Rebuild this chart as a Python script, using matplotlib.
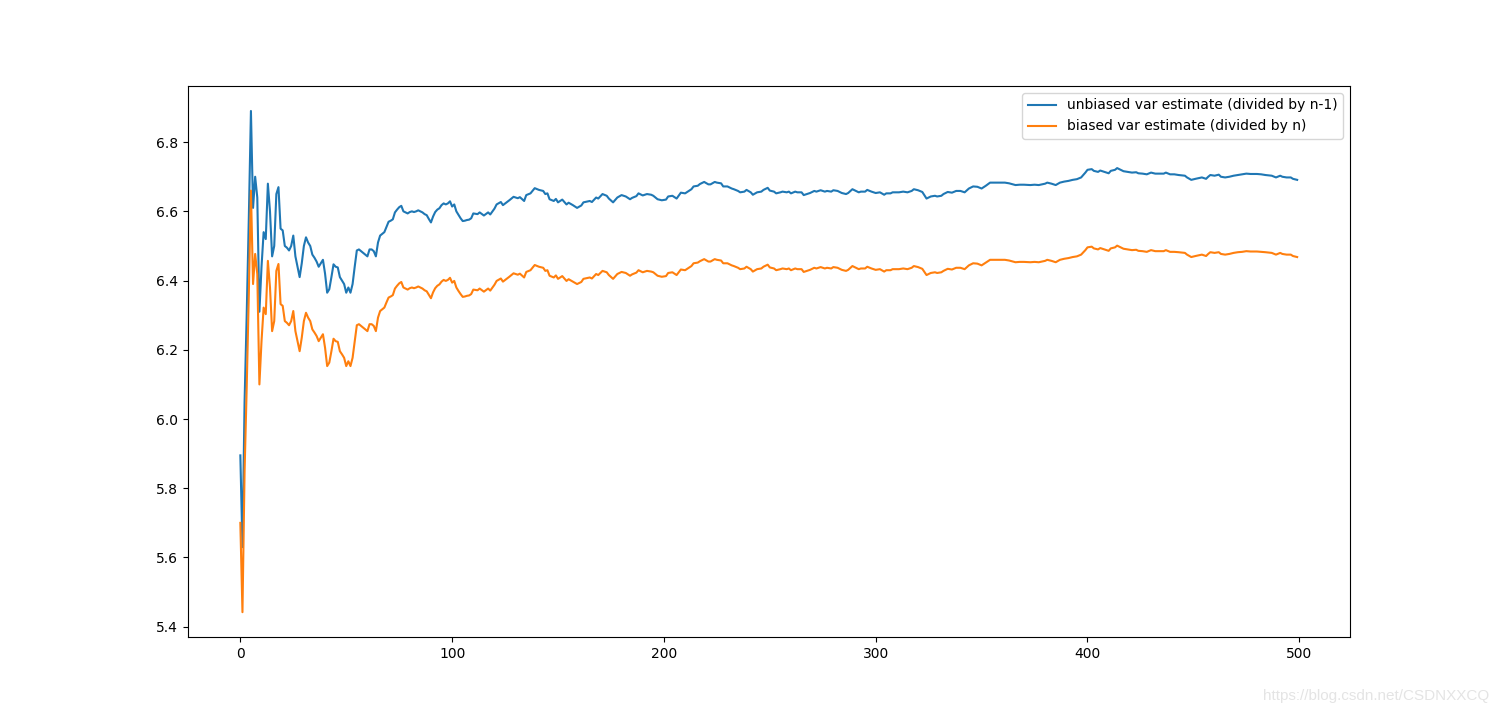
import numpy as np
import matplotlib.pyplot as plt

# sample index (every step early on, then the points)
idx = list(range(0, 111)) + [
    112, 113, 115, 117, 118, 120, 121, 123, 124, 127, 129, 131, 132, 134, 135, 137, 139, 141, 143, 144,
    145, 146, 148, 149, 150, 152, 154, 155, 157, 159, 161, 162, 165, 166, 168, 169, 171, 173, 174, 176,
    178, 180, 182, 184, 185, 187, 188, 190, 192, 194, 195, 197, 199, 201, 202, 204, 206, 208, 210, 211,
    213, 214, 216, 217, 219, 221, 222, 224, 225, 227, 228, 230, 232, 233, 235, 236, 238, 239, 241, 242,
    244, 246, 247, 249, 250, 252, 253, 255, 256, 258, 259, 260, 262, 263, 265, 266, 268, 269, 271, 272,
    274, 276, 277, 279, 280, 282, 284, 286, 287, 289, 290, 292, 293, 295, 296, 298, 300, 302, 304, 305,
    307, 308, 311, 313, 315, 317, 318, 320, 322, 324, 326, 328, 329, 331, 332, 334, 336, 338, 340, 342,
    344, 346, 348, 350, 352, 354, 356, 358, 361, 363, 366, 368, 370, 373, 375, 377, 380, 381, 383, 385,
    387, 389, 391, 393, 395, 397, 399, 400, 402, 403, 405, 406, 408, 410, 411, 413, 414, 416, 417, 419,
    421, 423, 424, 426, 428, 430, 432, 434, 436, 437, 439, 441, 443, 446, 447, 449, 451, 454, 456, 457,
    458, 460, 462, 463, 465, 467, 469, 471, 473, 475, 477, 480, 482, 484, 487, 489, 491, 492, 494, 496,
    497, 499]

unbiased = [
    5.895, 5.63, 6.05, 6.30, 6.58, 6.89, 6.61, 6.70, 6.64, 6.31,
    6.44, 6.54, 6.52, 6.68, 6.60, 6.47, 6.50, 6.65, 6.67, 6.55,
    6.545, 6.50, 6.495, 6.487, 6.50, 6.53, 6.47, 6.44, 6.41, 6.45,
    6.50, 6.525, 6.51, 6.50, 6.475, 6.466, 6.455, 6.44, 6.45, 6.46,
    6.42, 6.365, 6.375, 6.41, 6.447, 6.44, 6.438, 6.41, 6.40, 6.39,
    6.365, 6.38, 6.365, 6.39, 6.44, 6.487, 6.49, 6.485, 6.48, 6.475,
    6.47, 6.49, 6.49, 6.485, 6.47, 6.51, 6.53, 6.535, 6.54, 6.555,
    6.57, 6.573, 6.577, 6.597, 6.605, 6.612, 6.616, 6.60, 6.597, 6.594,
    6.598, 6.60, 6.598, 6.60, 6.603, 6.60, 6.597, 6.592, 6.589, 6.578,
    6.568, 6.585, 6.598, 6.605, 6.609, 6.618, 6.623, 6.62, 6.623, 6.629,
    6.614, 6.62, 6.60, 6.59, 6.58, 6.572, 6.573, 6.575, 6.576, 6.58,
    6.594,
    6.592, 6.597, 6.588, 6.597, 6.591, 6.608, 6.62, 6.627, 6.618, 6.632, 6.642, 6.638, 6.641, 6.63, 6.647,
    6.652, 6.667, 6.662, 6.659, 6.65, 6.652, 6.635, 6.63, 6.636, 6.626, 6.634, 6.62, 6.625, 6.618, 6.61,
    6.617, 6.626, 6.63, 6.627, 6.64, 6.637, 6.65, 6.645, 6.637, 6.626, 6.64, 6.647, 6.643, 6.635, 6.639,
    6.644, 6.652, 6.646, 6.65, 6.648, 6.645, 6.635, 6.632, 6.634, 6.643, 6.645, 6.637, 6.654, 6.652, 6.656,
    6.664, 6.672, 6.674, 6.679, 6.685, 6.678, 6.678, 6.685, 6.683, 6.681, 6.672, 6.672, 6.666, 6.664, 6.659,
    6.655, 6.657, 6.662, 6.655, 6.648, 6.655, 6.657, 6.662, 6.668, 6.66, 6.657, 6.652, 6.655, 6.657, 6.655,
    6.657, 6.652, 6.657, 6.655, 6.655, 6.647, 6.651, 6.653, 6.659, 6.657, 6.661, 6.657, 6.659, 6.657, 6.661,
    6.659, 6.653, 6.65, 6.653, 6.664, 6.661, 6.655, 6.657, 6.657, 6.662, 6.657, 6.653, 6.655, 6.648, 6.652,
    6.652, 6.655, 6.655, 6.657, 6.655, 6.659, 6.664, 6.661, 6.656, 6.637, 6.643, 6.645, 6.643, 6.645, 6.65,
    6.656, 6.654, 6.659, 6.659, 6.655, 6.666, 6.672, 6.671, 6.666, 6.674, 6.683, 6.683, 6.683, 6.683, 6.681,
    6.676, 6.677, 6.677, 6.676, 6.677, 6.676, 6.68, 6.683, 6.68, 6.676, 6.683, 6.686, 6.688, 6.691, 6.693,
    6.698, 6.712, 6.72, 6.722, 6.717, 6.714, 6.718, 6.714, 6.71, 6.717, 6.72, 6.725, 6.719, 6.716, 6.714,
    6.712, 6.713, 6.71, 6.709, 6.707, 6.712, 6.709, 6.709, 6.709, 6.712, 6.707, 6.707, 6.705, 6.703, 6.698,
    6.691, 6.694, 6.698, 6.694, 6.70, 6.705, 6.703, 6.706, 6.70, 6.698, 6.70, 6.703, 6.705, 6.707, 6.709,
    6.708, 6.708, 6.707, 6.705, 6.703, 6.698, 6.703, 6.70, 6.698, 6.698, 6.694, 6.691]

biased = [
    5.70, 5.442, 5.848, 6.09, 6.361, 6.660, 6.390, 6.477, 6.419, 6.100,
    6.225, 6.322, 6.303, 6.457, 6.38, 6.254, 6.283, 6.428, 6.448, 6.332,
    6.327, 6.283, 6.278, 6.271, 6.283, 6.312, 6.254, 6.225, 6.196, 6.235,
    6.283, 6.307, 6.293, 6.283, 6.259, 6.250, 6.240, 6.225, 6.235, 6.245,
    6.206, 6.153, 6.163, 6.196, 6.232, 6.225, 6.223, 6.196, 6.187, 6.177,
    6.153, 6.167, 6.153, 6.177, 6.225, 6.271, 6.274, 6.269, 6.264, 6.259,
    6.254, 6.274, 6.274, 6.269, 6.254, 6.293, 6.312, 6.317, 6.322, 6.337,
    6.351, 6.354, 6.358, 6.377, 6.385, 6.392, 6.396, 6.38, 6.377, 6.374,
    6.378, 6.38, 6.378, 6.38, 6.383, 6.38, 6.377, 6.372, 6.369, 6.359,
    6.349, 6.366, 6.378, 6.385, 6.389, 6.397, 6.402, 6.399, 6.402, 6.408,
    6.394, 6.399, 6.38, 6.37, 6.361, 6.353, 6.354, 6.356, 6.357, 6.361,
    6.374,
    6.372, 6.377, 6.368, 6.377, 6.371, 6.388, 6.399, 6.406, 6.397, 6.411, 6.421, 6.417, 6.420, 6.409, 6.425,
    6.430, 6.445, 6.440, 6.437, 6.428, 6.430, 6.414, 6.409, 6.415, 6.405, 6.413, 6.399, 6.404, 6.397, 6.390,
    6.396, 6.405, 6.409, 6.406, 6.419, 6.416, 6.428, 6.424, 6.416, 6.405, 6.419, 6.425, 6.422, 6.414, 6.418,
    6.423, 6.430, 6.424, 6.428, 6.426, 6.424, 6.414, 6.411, 6.413, 6.422, 6.424, 6.416, 6.432, 6.430, 6.434,
    6.442, 6.450, 6.452, 6.456, 6.462, 6.455, 6.455, 6.462, 6.460, 6.458, 6.450, 6.450, 6.444, 6.442, 6.437,
    6.433, 6.435, 6.440, 6.433, 6.426, 6.433, 6.435, 6.440, 6.446, 6.438, 6.435, 6.430, 6.433, 6.435, 6.433,
    6.435, 6.430, 6.435, 6.433, 6.433, 6.425, 6.429, 6.431, 6.437, 6.435, 6.439, 6.435, 6.437, 6.435, 6.439,
    6.437, 6.431, 6.428, 6.431, 6.442, 6.439, 6.433, 6.435, 6.435, 6.440, 6.435, 6.431, 6.433, 6.426, 6.430,
    6.430, 6.433, 6.433, 6.435, 6.433, 6.437, 6.442, 6.439, 6.434, 6.416, 6.422, 6.424, 6.422, 6.424, 6.428,
    6.434, 6.432, 6.437, 6.437, 6.433, 6.444, 6.450, 6.449, 6.444, 6.452, 6.460, 6.460, 6.460, 6.460, 6.458,
    6.453, 6.454, 6.454, 6.453, 6.454, 6.453, 6.457, 6.460, 6.457, 6.453, 6.460, 6.463, 6.465, 6.468, 6.470,
    6.475, 6.488, 6.496, 6.498, 6.493, 6.490, 6.494, 6.490, 6.486, 6.493, 6.496, 6.501, 6.495, 6.492, 6.490,
    6.488, 6.489, 6.486, 6.485, 6.483, 6.488, 6.485, 6.485, 6.485, 6.488, 6.483, 6.483, 6.482, 6.480, 6.475,
    6.468, 6.471, 6.475, 6.471, 6.477, 6.482, 6.480, 6.482, 6.477, 6.475, 6.477, 6.480, 6.482, 6.483, 6.485,
    6.484, 6.484, 6.483, 6.482, 6.480, 6.475, 6.480, 6.477, 6.475, 6.475, 6.471, 6.468]

fig, ax = plt.subplots(figsize=(15, 7.16), dpi=100)
ax.plot(idx, unbiased, label='unbiased var estimate (divided by n-1)')
ax.plot(idx, biased, label='biased var estimate (divided by n)')
ax.legend()

# faint blog watermark in the corner
fig.text(0.993, 0.018, 'https://blog.csdn.net/CSDNXXCQ', ha='right', va='bottom',
         fontsize=11, color='#e4e4e4', family=['Liberation Sans', 'DejaVu Sans'])

fig.savefig('out.png')
